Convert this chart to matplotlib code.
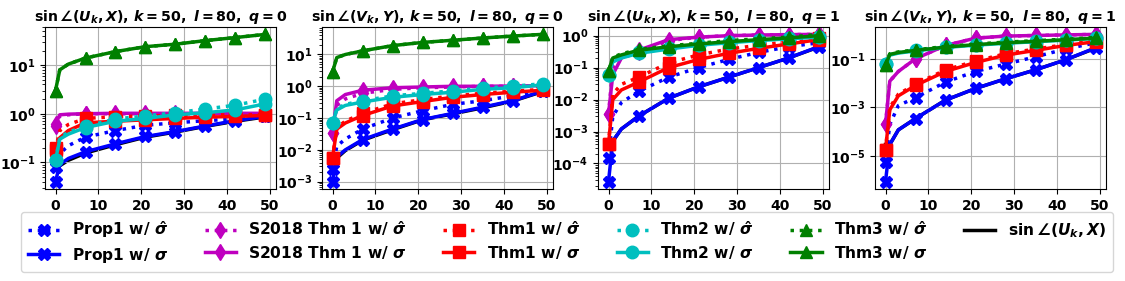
"""Subspace angle bounds versus iteration, four panels with a shared legend."""

import matplotlib
matplotlib.use('Agg')
from matplotlib import pyplot

iters = [0, 1, 3, 7, 14, 21, 28, 35, 42, 49]
mark_idx = [0, 3, 4, 5, 6, 7, 8, 9]

titles = [r'$\sin\angle(U_k,X)$, $k=50,\ l=80,\ q=0$',
          r'$\sin\angle(V_k,Y)$, $k=50,\ l=80,\ q=0$',
          r'$\sin\angle(U_k,X)$, $k=50,\ l=80,\ q=1$',
          r'$\sin\angle(V_k,Y)$, $k=50,\ l=80,\ q=1$']

# One list per panel for every series.
prop1_hat = [
    [0.08, 0.15, 0.22, 0.33, 0.45, 0.58, 0.65, 0.72, 0.78, 0.88],
    [0.0025, 0.013, 0.022, 0.045, 0.10, 0.17, 0.27, 0.35, 0.50, 0.70],
    [0.00015, 0.003, 0.008, 0.018, 0.05, 0.10, 0.18, 0.30, 0.45, 0.60],
    [6e-6, 0.0002, 0.0012, 0.0025, 0.011, 0.03, 0.06, 0.12, 0.25, 0.45],
]
prop1 = [
    [0.04, 0.09, 0.12, 0.165, 0.24, 0.34, 0.43, 0.56, 0.72, 0.88],
    [0.001, 0.006, 0.010, 0.021, 0.045, 0.09, 0.14, 0.22, 0.35, 0.70],
    [2.7e-5, 0.0005, 0.0012, 0.003, 0.011, 0.025, 0.05, 0.10, 0.20, 0.45],
    [9e-7, 3e-5, 0.00012, 0.00035, 0.002, 0.006, 0.015, 0.035, 0.09, 0.28],
]
s2018_hat = [
    [0.55, 0.90, 0.95, 1.0, 1.0, 1.0, 1.0, 1.0, 1.0, 1.0],
    [0.035, 0.25, 0.40, 0.60, 0.80, 0.90, 0.95, 1.0, 1.0, 1.0],
    [0.0035, 0.10, 0.20, 0.30, 0.70, 0.90, 1.0, 1.05, 1.08, 1.1],
    [0.0002, 0.012, 0.03, 0.10, 0.35, 0.70, 0.85, 0.90, 0.95, 1.0],
]
s2018 = [
    [0.62, 0.95, 0.98, 1.0, 1.02, 1.02, 1.02, 1.02, 1.02, 1.02],
    [0.035, 0.35, 0.55, 0.75, 0.90, 0.95, 1.0, 1.0, 1.02, 1.05],
    [0.0035, 0.06, 0.20, 0.35, 0.75, 0.90, 1.0, 1.05, 1.08, 1.1],
    [0.0002, 0.012, 0.03, 0.10, 0.35, 0.70, 0.85, 0.90, 0.95, 1.0],
]
thm1_hat = [
    [0.18, 0.45, 0.60, 0.80, 0.87, 0.90, 0.92, 0.94, 0.95, 0.95],
    [0.0055, 0.05, 0.08, 0.14, 0.28, 0.38, 0.50, 0.60, 0.70, 0.80],
    [0.0004, 0.015, 0.03, 0.05, 0.14, 0.25, 0.38, 0.50, 0.65, 0.85],
    [1.8e-5, 0.001, 0.0035, 0.009, 0.035, 0.08, 0.16, 0.25, 0.38, 0.55],
]
thm1 = [
    [0.20, 0.32, 0.45, 0.65, 0.70, 0.75, 0.80, 0.85, 0.88, 0.92],
    [0.0055, 0.045, 0.07, 0.12, 0.24, 0.33, 0.45, 0.55, 0.65, 0.75],
    [0.0004, 0.010, 0.02, 0.035, 0.10, 0.18, 0.28, 0.40, 0.55, 0.75],
    [1.8e-5, 0.0008, 0.003, 0.008, 0.03, 0.07, 0.14, 0.22, 0.35, 0.50],
]
thm2_hat = [
    [0.11, 0.32, 0.42, 0.55, 0.78, 0.90, 1.05, 1.25, 1.50, 2.0],
    [0.07, 0.20, 0.27, 0.35, 0.50, 0.60, 0.72, 0.88, 1.0, 1.2],
    [0.06, 0.16, 0.21, 0.30, 0.40, 0.52, 0.62, 0.72, 0.82, 0.92],
    [0.06, 0.15, 0.18, 0.22, 0.30, 0.38, 0.45, 0.52, 0.60, 0.70],
]
thm2 = [
    [0.11, 0.30, 0.38, 0.52, 0.70, 0.80, 0.95, 1.05, 1.20, 1.60],
    [0.07, 0.18, 0.25, 0.32, 0.45, 0.55, 0.65, 0.80, 0.90, 1.10],
    [0.06, 0.15, 0.20, 0.28, 0.38, 0.50, 0.60, 0.70, 0.80, 0.90],
    [0.06, 0.14, 0.17, 0.21, 0.29, 0.36, 0.43, 0.50, 0.58, 0.68],
]
thm3_hat = [
    [3.0, 8.0, 10.5, 14.0, 19.0, 24.0, 27.0, 32.0, 37.0, 43.0],
    [2.8, 8.0, 10.0, 13.0, 19.0, 24.0, 28.0, 33.0, 38.0, 43.0],
    [0.08, 0.21, 0.27, 0.37, 0.48, 0.58, 0.70, 0.80, 0.90, 1.1],
    [0.055, 0.16, 0.19, 0.23, 0.32, 0.40, 0.48, 0.55, 0.63, 0.75],
]
thm3 = [
    [3.0, 8.0, 10.5, 14.0, 19.0, 24.0, 27.0, 32.0, 37.0, 43.0],
    [2.8, 8.0, 10.0, 13.0, 19.0, 24.0, 28.0, 33.0, 38.0, 43.0],
    [0.08, 0.20, 0.25, 0.35, 0.45, 0.55, 0.65, 0.75, 0.85, 1.0],
    [0.055, 0.15, 0.18, 0.22, 0.30, 0.38, 0.45, 0.52, 0.60, 0.70],
]
true_angle = [
    [0.08, 0.085, 0.11, 0.155, 0.23, 0.33, 0.42, 0.55, 0.70, 0.86],
    [0.005, 0.0055, 0.0095, 0.020, 0.043, 0.088, 0.135, 0.21, 0.34, 0.68],
    [0.0005, 0.0005, 0.0012, 0.003, 0.011, 0.025, 0.05, 0.10, 0.20, 0.44],
    [3e-5, 3e-5, 0.00012, 0.00035, 0.002, 0.006, 0.015, 0.035, 0.09, 0.27],
]

# Font setup: bold text with bold-italic math.
pyplot.rc('font', family='DejaVu Sans', weight='bold', size=10)
pyplot.rc('mathtext', fontset='custom', rm='DejaVu Sans:bold',
          it='DejaVu Sans:italic:bold', bf='DejaVu Sans:bold')
pyplot.rc('axes', titleweight='bold', labelweight='bold')

fig = pyplot.figure(figsize=(11.25, 2.81), dpi=100)
lefts = [45, 322, 598, 875]
W, H = 1125.0, 281.0

series = [
    (prop1_hat, 'b', 'X', ':', r'Prop1 w/ $\hat{\sigma}$', 8),
    (prop1, 'b', 'X', '-', r'Prop1 w/ $\sigma$', 8),
    (s2018_hat, 'm', 'd', ':', r'S2018 Thm 1 w/ $\hat{\sigma}$', 8),
    (s2018, 'm', 'd', '-', r'S2018 Thm 1 w/ $\sigma$', 8),
    (thm1_hat, 'r', 's', ':', r'Thm1 w/ $\hat{\sigma}$', 9),
    (thm1, 'r', 's', '-', r'Thm1 w/ $\sigma$', 9),
    (thm2_hat, 'c', 'o', ':', r'Thm2 w/ $\hat{\sigma}$', 9),
    (thm2, 'c', 'o', '-', r'Thm2 w/ $\sigma$', 9),
    (thm3_hat, 'g', '^', ':', r'Thm3 w/ $\hat{\sigma}$', 8),
    (thm3, 'g', '^', '-', r'Thm3 w/ $\sigma$', 8),
]

for p in range(4):
    ax = fig.add_axes([lefts[p] / W, 1 - 189 / H, 231 / W, 162 / H])
    ax.plot(iters, true_angle[p], color='k', lw=2.5, zorder=1,
            label=r'$\sin\angle(U_k,X)$')
    for vals, col, mk, ls, lab, ms in series:
        ax.plot(iters, vals[p], color=col, marker=mk, ls=ls, lw=2.5,
                ms=ms, markevery=mark_idx, label=lab, zorder=2)
    ax.set_yscale('log')
    ax.set_xticks([0, 10, 20, 30, 40, 50])
    ax.grid(True, which='major', color='#b0b0b0', lw=0.8)
    ax.set_title(titles[p], fontsize=10.2, pad=4)
    ax.tick_params(labelsize=10)

handles, labels = ax.get_legend_handles_labels()
handles = handles[1:] + handles[:1]
labels = labels[1:] + labels[:1]
fig.legend(handles, labels, loc='lower center', bbox_to_anchor=(0.504, 0.0),
           ncol=6, fontsize=11.2, columnspacing=2.35, handlelength=2.0,
           labelspacing=0.35, borderpad=0.45, borderaxespad=0.6)

fig.savefig('out.png', dpi=100)
